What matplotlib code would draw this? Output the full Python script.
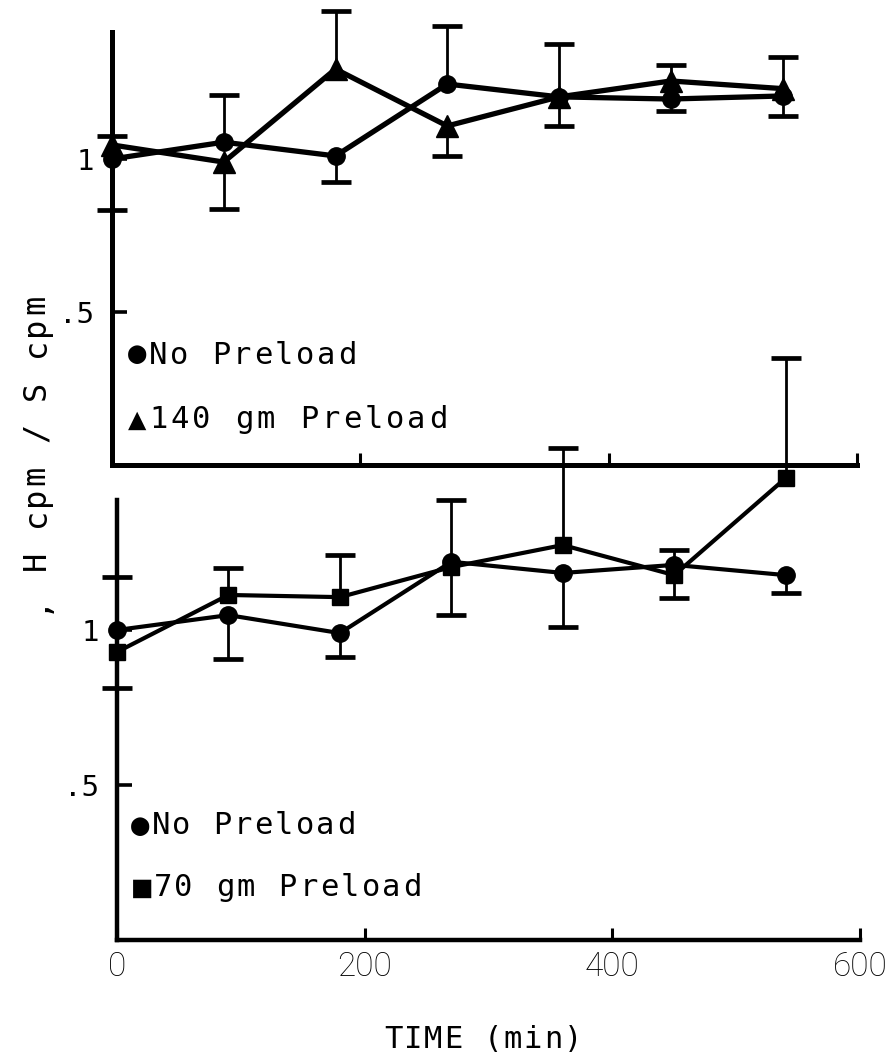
import matplotlib
matplotlib.use("Agg")
import matplotlib.pyplot as plt
import numpy as np

# Sampling times (min)
times = [0, 90, 180, 270, 360, 450, 540]

# Upper panel: no preload vs 140 gm preload (ratio, one-sided SEM)
top_none = [1.00, 1.055, 1.01, 1.245, 1.203, 1.196, 1.206]
top_none_up = [0.0, 0.154, 0.0, 0.19, 0.0, 0.0, 0.0]
top_none_dn = [0.167, 0.0, 0.085, 0.0, 0.095, 0.04, 0.066]

top_140 = [1.046, 0.99, 1.294, 1.108, 1.203, 1.255, 1.23]
top_140_up = [0.03, 0.0, 0.19, 0.0, 0.173, 0.052, 0.103]
top_140_dn = [0.0, 0.153, 0.0, 0.098, 0.0, 0.0, 0.0]

# Lower panel: no preload vs 70 gm preload
bot_none = [1.00, 1.048, 0.99, 1.22, 1.184, 1.21, 1.177]
bot_none_up = [0.17, 0.0, 0.0, 0.2, 0.0, 0.048, 0.0]
bot_none_dn = [0.0, 0.142, 0.077, 0.0, 0.174, 0.0, 0.058]

bot_70 = [0.929, 1.113, 1.106, 1.203, 1.274, 1.177, 1.49]
bot_70_up = [0.0, 0.087, 0.136, 0.0, 0.313, 0.0, 0.387]
bot_70_dn = [0.116, 0.0, 0.0, 0.155, 0.0, 0.074, 0.0]

xticks = [0, 200, 400, 600]
xticklabels = ["0", "200", "400", "600"]
yticks = [0.5, 1.0]
yticklabels = [".5", "1"]

W, H = 889, 1060
fig = plt.figure(figsize=(W / 100, H / 100), dpi=100)
MONO = ["DejaVu Sans Mono", "DejaVu Sans"]


def px_axes(left, top, right, bottom):
    return fig.add_axes([left / W, 1 - bottom / H, (right - left) / W, (bottom - top) / H])


def spaced(x0, y0, s, pitch, size=22, vertical=False):
    """Typewriter-style text: one glyph per fixed pitch (pixel coords from top-left)."""
    for i, ch in enumerate(s):
        if ch == " ":
            continue
        if vertical:
            x, y = x0, y0 - i * pitch
        else:
            x, y = x0 + i * pitch, y0
        fig.text(x / W, 1 - y / H, ch, ha="center", va="center", fontsize=size,
                 family=MONO, rotation=90 if vertical else 0)


def series(ax, vals, up, dn, marker, ms, lw):
    t = np.array(times, float)
    v = np.array(vals, float)
    up = np.array(up, float)
    dn = np.array(dn, float)
    for err, sign in ((up, 1), (dn, -1)):
        m = err > 0
        ends = v[m] + sign * err[m]
        ax.vlines(t[m], v[m], ends, color="black", lw=2.0, zorder=2, clip_on=False)
        ax.plot(t[m], ends, ls="none", marker="_", ms=22, mew=3.4, color="black",
                zorder=2, clip_on=False)
    ax.plot(t, v, color="black", lw=lw, marker=marker, ms=ms, mfc="black", mec="black",
            zorder=3, clip_on=False)


def style(ax, ytop, show_xlabels, spine_lw):
    ax.set_xlim(0, 600)
    ax.set_ylim(0, ytop)
    for s in ("top", "right"):
        ax.spines[s].set_visible(False)
    for s in ("left", "bottom"):
        ax.spines[s].set_linewidth(spine_lw)
        ax.spines[s].set_capstyle("projecting")
    ax.set_xticks(xticks)
    ax.set_yticks(yticks)
    ax.set_yticklabels(yticklabels, family=MONO, fontsize=21)
    if show_xlabels:
        ax.set_xticklabels(xticklabels, family=["Roboto", "DejaVu Sans"],
                           fontweight="light", fontsize=24)
    else:
        ax.set_xticklabels([])
    ax.tick_params(axis="x", direction="in", length=9, width=2.2, pad=8)
    ax.tick_params(axis="y", direction="in", length=11, width=2.6, pad=13)
    ax.patch.set_alpha(0)


ax1 = px_axes(112, 32, 857, 465)
ax2 = px_axes(117, 500, 860, 940)

style(ax1, 433 / 306, False, 3.6)
style(ax2, 440 / 310, True, 3.2)

series(ax1, top_none, top_none_up, top_none_dn, "o", 12.5, 3.8)
series(ax1, top_140, top_140_up, top_140_dn, "^", 16, 3.8)

series(ax2, bot_none, bot_none_up, bot_none_dn, "o", 12.5, 3.0)
series(ax2, bot_70, bot_70_up, bot_70_dn, "s", 11.5, 3.0)

# Key entries
spaced(137, 355, "●No Preload", 21)
spaced(137, 420, "▲140 gm Preload", 21.5)
spaced(140, 826, "●No Preload", 20.6)
spaced(142, 888, "■70 gm Preload", 20.8)

# Axis titles
spaced(393, 1040, "TIME (min)", 20)
spaced(36, 603, ", H cpm / S cpm", 21.3, size=23, vertical=True)

fig.savefig("out.png", dpi=100)
